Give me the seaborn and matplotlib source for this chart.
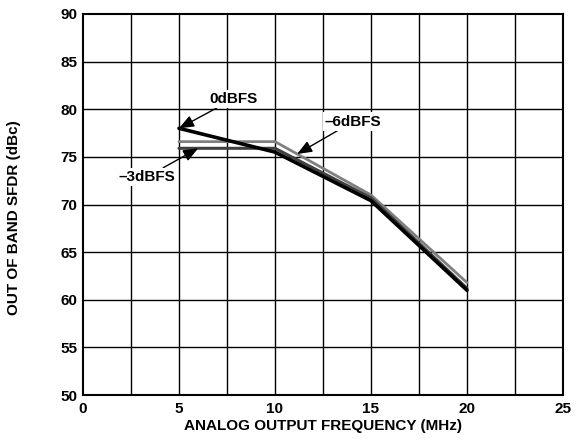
import pandas as pd
import matplotlib.pyplot as plt
import seaborn as sns

# Data
freq = [5, 10, 15, 20]
sfdr_0dbfs = [78.0, 75.5, 70.4, 61.0]
sfdr_3dbfs = [75.9, 75.9, 70.7, 61.2]
sfdr_6dbfs = [76.6, 76.6, 71.0, 61.8]

sns.set_theme(style='white')
plt.rcParams['font.family'] = ['Liberation Sans', 'DejaVu Sans']
plt.rcParams['font.weight'] = 'bold'
plt.rcParams['text.color'] = 'black'
plt.rcParams['axes.labelcolor'] = 'black'

fig = plt.figure(figsize=(5.82, 4.47), dpi=100)
ax = fig.add_axes([0.1426, 0.1163, 0.8247, 0.8524])

#Grid
for x in [2.5 * i for i in range(1, 10)]:
    ax.axvline(x, color='black', lw=1.0, zorder=1)
for y in range(55, 90, 5):
    ax.axhline(y, color='black', lw=1.0, zorder=1)

#Series
sns.lineplot(x=freq, y=sfdr_6dbfs, color='#808080', lw=2.0, ax=ax, zorder=3)
sns.lineplot(x=freq, y=sfdr_3dbfs, color='#404040', lw=2.2, ax=ax, zorder=4)
sns.lineplot(x=freq, y=sfdr_0dbfs, color='black', lw=2.6, ax=ax, zorder=5)

#Annotations
arrow = dict(arrowstyle='-|>,head_length=0.5,head_width=0.2', color='black', lw=1.0,
             mutation_scale=18, shrinkA=0, shrinkB=0)
box = dict(facecolor='white', edgecolor='none', pad=1.5)
ax.annotate('0dBFS', xy=(5, 78.0), xytext=(6.6, 81.1), fontsize=11, fontweight='bold', color='black',
            ha='left', va='center', arrowprops=arrow, bbox=box, zorder=6)
ax.annotate('\u20133dBFS', xy=(6.0, 75.9), xytext=(4.8, 72.9), fontsize=11, fontweight='bold', color='black',
            ha='right', va='center', arrowprops=arrow, bbox=box, zorder=6)
ax.annotate('\u20136dBFS', xy=(11.15, 75.3), xytext=(12.6, 78.7), fontsize=11, fontweight='bold', color='black',
            ha='left', va='center', arrowprops=arrow, bbox=box, zorder=6)

#Axes
ax.set_xlim(0, 25)
ax.set_ylim(50, 90)
ax.set_xticks(range(0, 26, 5))
ax.set_yticks(range(50, 91, 5))
ax.tick_params(axis='both', length=0, labelsize=11, colors='black')
ax.tick_params(axis='x', pad=5)
ax.tick_params(axis='y', pad=4)
for lab in ax.get_xticklabels() + ax.get_yticklabels():
    lab.set_fontweight('bold')
for s in ax.spines.values():
    s.set_color('black')
    s.set_linewidth(1.5)
ax.set_xlabel('ANALOG OUTPUT FREQUENCY (MHz)', fontsize=11, fontweight='bold', labelpad=2)
ax.set_ylabel('OUT OF BAND SFDR (dBc)', fontsize=11, fontweight='bold')
ax.yaxis.set_label_coords(-0.129, 0.465)

fig.savefig('out.png', dpi=100)
